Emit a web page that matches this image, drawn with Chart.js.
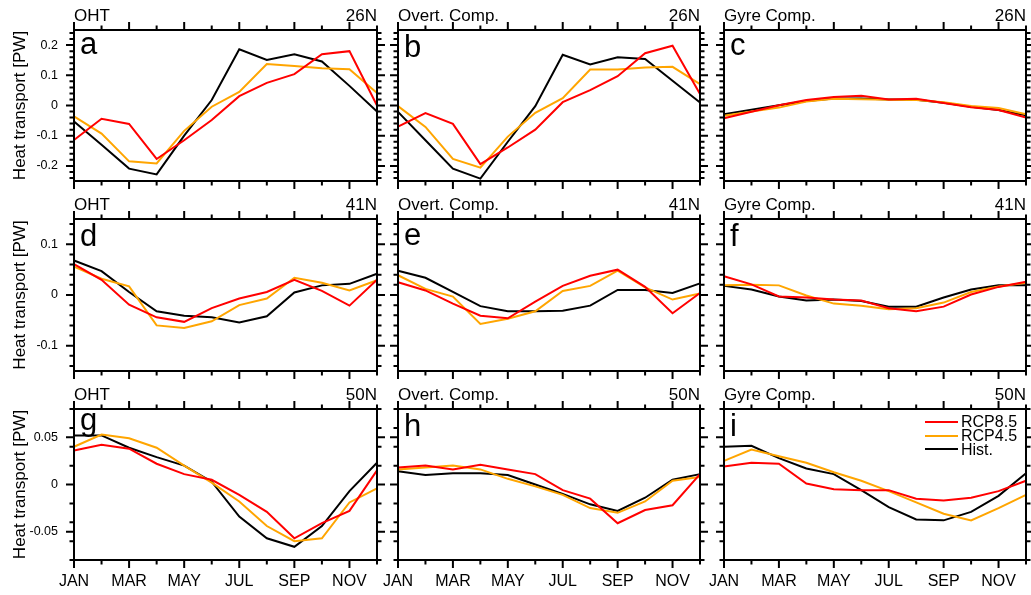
<!DOCTYPE html>
<html>
<head>
<meta charset="utf-8">
<script src="https://cdn.jsdelivr.net/npm/chart.js@4"></script>
<style>
body { margin: 0; background: #fff; }
#wrap { position: relative; width: 1031px; height: 595px; overflow: hidden; font-family: 'Liberation Sans', Arial, sans-serif; color: #000; }
#wrap canvas, .txt, .key { position: absolute; }
.txt { white-space: nowrap; line-height: 1; }
</style>
</head>
<body>
<div id="wrap"></div>
<script>
var months = ['JAN','FEB','MAR','APR','MAY','JUN','JUL','AUG','SEP','OCT','NOV','DEC'];

// 26N
var oht26_hist  = [-0.053, -0.130, -0.209, -0.228, -0.100, 0.018, 0.186, 0.151, 0.170, 0.146, 0.065, -0.020];
var oht26_rcp45 = [-0.036, -0.093, -0.185, -0.192, -0.084, -0.004, 0.045, 0.137, 0.131, 0.123, 0.120, 0.041];
var oht26_rcp85 = [-0.114, -0.044, -0.061, -0.177, -0.115, -0.048, 0.031, 0.075, 0.104, 0.170, 0.180, 0.000];
var ovt26_hist  = [-0.021, -0.115, -0.209, -0.242, -0.120, -0.002, 0.168, 0.136, 0.160, 0.154, 0.082, 0.010];
var ovt26_rcp45 = [-0.002, -0.071, -0.177, -0.206, -0.103, -0.024, 0.024, 0.119, 0.119, 0.126, 0.128, 0.071];
var ovt26_rcp85 = [-0.070, -0.025, -0.061, -0.194, -0.139, -0.080, 0.011, 0.051, 0.097, 0.173, 0.198, 0.038];
var gyre26_hist  = [-0.029, -0.014, 0.001, 0.015, 0.023, 0.023, 0.020, 0.019, 0.009, -0.004, -0.015, -0.032];
var gyre26_rcp45 = [-0.034, -0.020, -0.007, 0.013, 0.022, 0.021, 0.019, 0.018, 0.011, -0.002, -0.008, -0.029];
var gyre26_rcp85 = [-0.042, -0.021, 0.001, 0.018, 0.028, 0.032, 0.020, 0.022, 0.008, -0.006, -0.015, -0.040];

// 41N
var oht41_hist  = [0.068, 0.047, 0.006, -0.032, -0.041, -0.044, -0.054, -0.042, 0.005, 0.019, 0.022, 0.042];
var oht41_rcp45 = [0.056, 0.032, 0.017, -0.060, -0.065, -0.052, -0.020, -0.007, 0.034, 0.024, 0.009, 0.029];
var oht41_rcp85 = [0.061, 0.030, -0.019, -0.044, -0.053, -0.026, -0.007, 0.006, 0.030, 0.008, -0.021, 0.030];
var ovt41_hist  = [0.048, 0.034, 0.006, -0.022, -0.032, -0.032, -0.031, -0.021, 0.010, 0.010, 0.004, 0.023];
var ovt41_rcp45 = [0.039, 0.012, -0.003, -0.057, -0.047, -0.032, 0.008, 0.018, 0.048, 0.015, -0.009, 0.003];
var ovt41_rcp85 = [0.025, 0.009, -0.017, -0.041, -0.046, -0.013, 0.018, 0.038, 0.050, 0.016, -0.036, 0.004];
var gyre41_hist  = [0.018, 0.011, -0.003, -0.011, -0.009, -0.012, -0.023, -0.023, -0.005, 0.011, 0.019, 0.019];
var gyre41_rcp45 = [0.019, 0.020, 0.019, -0.001, -0.017, -0.021, -0.028, -0.026, -0.015, 0.006, 0.017, 0.024];
var gyre41_rcp85 = [0.037, 0.021, -0.003, -0.005, -0.009, -0.011, -0.026, -0.032, -0.023, 0.001, 0.016, 0.026];

// 50N
var oht50_hist  = [0.052, 0.052, 0.039, 0.029, 0.020, 0.003, -0.034, -0.057, -0.066, -0.044, -0.007, 0.023];
var oht50_rcp45 = [0.040, 0.053, 0.049, 0.039, 0.020, 0.002, -0.018, -0.044, -0.060, -0.057, -0.019, -0.004];
var oht50_rcp85 = [0.036, 0.042, 0.038, 0.022, 0.011, 0.005, -0.011, -0.029, -0.057, -0.041, -0.028, 0.015];
var ovt50_hist  = [0.014, 0.010, 0.012, 0.012, 0.010, 0.000, -0.010, -0.021, -0.028, -0.014, 0.005, 0.011];
var ovt50_rcp45 = [0.016, 0.018, 0.020, 0.016, 0.006, -0.002, -0.011, -0.025, -0.030, -0.018, 0.004, 0.008];
var ovt50_rcp85 = [0.018, 0.020, 0.016, 0.021, 0.016, 0.011, -0.006, -0.015, -0.041, -0.027, -0.022, 0.011];
var gyre50_hist  = [0.040, 0.041, 0.028, 0.017, 0.011, -0.006, -0.024, -0.037, -0.038, -0.029, -0.012, 0.012];
var gyre50_rcp45 = [0.025, 0.037, 0.030, 0.023, 0.013, 0.004, -0.007, -0.019, -0.031, -0.038, -0.025, -0.011];
var gyre50_rcp85 = [0.019, 0.023, 0.022, 0.001, -0.005, -0.006, -0.006, -0.015, -0.017, -0.014, -0.007, 0.004];

var seriesLabels = ['RCP8.5', 'RCP4.5', 'Hist.'];
var seriesColors = ['#ff0000', '#ffa500', '#000000'];
var panelTitles = ['OHT', 'Overt. Comp.', 'Gyre Comp.'];
var latitudes = ['26N', '41N', '50N'];
var letters = [['a','b','c'], ['d','e','f'], ['g','h','i']];
var yLimits = [0.25, 0.15, 0.08];
var ySteps = [0.1, 0.1, 0.05];

// rows of [rcp85, rcp45, hist] per panel (first dataset is drawn on top)
var panels = [
  [[oht26_rcp85, oht26_rcp45, oht26_hist], [ovt26_rcp85, ovt26_rcp45, ovt26_hist], [gyre26_rcp85, gyre26_rcp45, gyre26_hist]],
  [[oht41_rcp85, oht41_rcp45, oht41_hist], [ovt41_rcp85, ovt41_rcp45, ovt41_hist], [gyre41_rcp85, gyre41_rcp45, gyre41_hist]],
  [[oht50_rcp85, oht50_rcp45, oht50_hist], [ovt50_rcp85, ovt50_rcp45, ovt50_hist], [gyre50_rcp85, gyre50_rcp45, gyre50_hist]]
];

// frame boxes in page pixels
var frameLeft = [74, 398, 724], frameRight = [377, 700, 1026];
var frameTop = [30, 219, 409], frameBottom = [181, 371, 560];
var letterOffset = {a: 24, c: 25, e: 26, g: 21};

Chart.defaults.font.family = "'Liberation Sans', Arial, sans-serif";
Chart.defaults.color = '#000';

var wrap = document.getElementById('wrap');

function addText(str, x, baseline, size, align) {
  var d = document.createElement('div');
  d.className = 'txt';
  d.textContent = str;
  d.style.fontSize = size + 'px';
  d.style.top = (baseline - 0.8465 * size) + 'px';
  if (align === 'right') d.style.right = (1031 - x) + 'px';
  else d.style.left = x + 'px';
  wrap.appendChild(d);
}

// box frame plus outward tick marks on all four sides
var frameTicks = {
  id: 'frameTicks',
  afterDatasetsDraw: function(chart, args, opts) {
    var ctx = chart.ctx, a = chart.chartArea;
    var xs = chart.scales.x, ys = chart.scales.y;
    ctx.save();
    ctx.strokeStyle = '#000';
    ctx.lineWidth = 2;
    ctx.beginPath();
    months.forEach(function(m, i) {
      var px = xs.getPixelForValue(i), len = i % 2 === 0 ? 8 : 4.5;
      ctx.moveTo(px, a.bottom); ctx.lineTo(px, a.bottom + len);
      ctx.moveTo(px, a.top); ctx.lineTo(px, a.top - len);
    });
    function yTick(v, len) {
      var py = ys.getPixelForValue(v);
      ctx.moveTo(a.left, py); ctx.lineTo(a.left - len, py);
      ctx.moveTo(a.right, py); ctx.lineTo(a.right + len, py);
    }
    var n = Math.floor(ys.max / 0.02 + 1e-9);
    for (var k = -n; k <= n; k++) yTick(k * 0.02, 4.5);
    var m = Math.floor(ys.max / opts.step + 1e-9);
    for (var j = -m; j <= m; j++) yTick(j * opts.step, 8);
    ctx.stroke();
    ctx.strokeRect(a.left, a.top, a.right - a.left, a.bottom - a.top);
    ctx.restore();
  }
};

function makePanel(r, c) {
  var leftW = c === 0 ? 70 : 22;
  var rightPad = 14, topPad = 12;
  var bottomH = r === 2 ? 34 : 12;
  var cv = document.createElement('canvas');
  var w = frameRight[c] - frameLeft[c] + leftW + rightPad;
  var h = frameBottom[r] - frameTop[r] + topPad + bottomH;
  cv.width = w; cv.height = h;
  cv.style.left = (frameLeft[c] - leftW) + 'px';
  cv.style.top = (frameTop[r] - topPad) + 'px';
  wrap.appendChild(cv);

  var lim = yLimits[r], step = ySteps[r];
  var majors = [];
  for (var j = -Math.floor(lim / step + 1e-9); j <= Math.floor(lim / step + 1e-9); j++) majors.push(+(j * step).toFixed(3));

  new Chart(cv, {
    type: 'line',
    data: {
      labels: months,
      datasets: panels[r][c].map(function(d, k) {
        return {
          label: seriesLabels[k],
          data: d,
          borderColor: seriesColors[k],
          borderWidth: 2,
          pointRadius: 0,
          tension: 0,
          fill: false
        };
      })
    },
    options: {
      responsive: false,
      animation: false,
      layout: { padding: { left: 0, right: rightPad, top: topPad, bottom: 0 } },
      plugins: {
        legend: { display: false },
        tooltip: { enabled: false },
        frameTicks: { step: step }
      },
      scales: {
        x: {
          grid: { display: false, drawTicks: false },
          border: { display: false },
          afterFit: function(s) { s.height = bottomH; s.paddingLeft = 0; s.paddingRight = 0; },
          ticks: {
            display: r === 2,
            autoSkip: false,
            maxRotation: 0,
            padding: 12,
            font: { size: 16 },
            callback: function(v, i) { return i % 2 === 0 ? months[i] : ''; }
          }
        },
        y: {
          min: -lim,
          max: lim,
          grid: { display: false, drawTicks: false },
          border: { display: false },
          afterBuildTicks: function(s) { s.ticks = majors.map(function(v) { return { value: v }; }); },
          afterFit: function(s) { s.width = leftW; s.paddingTop = 0; s.paddingBottom = 0; },
          ticks: {
            display: c === 0,
            padding: 16,
            font: { size: 12.5 },
            callback: function(v) { return String(+v.toFixed(3)); }
          },
          title: {
            display: c === 0,
            text: 'Heat transport [PW]',
            font: { size: 17 },
            padding: { top: 6, bottom: 0 }
          }
        }
      }
    },
    plugins: [frameTicks]
  });

  addText(panelTitles[c], frameLeft[c], frameTop[r] - 8.5, 17);
  addText(latitudes[r], frameRight[c], frameTop[r] - 8.5, 17, 'right');
  var L = letters[r][c];
  addText(L, frameLeft[c] + 6, frameTop[r] + (letterOffset[L] || 27), 31);
}

for (var r = 0; r < 3; r++) {
  for (var c = 0; c < 3; c++) makePanel(r, c);
}

// legend inside panel i
seriesLabels.forEach(function(lab, k) {
  var y = 421.7 + k * 13.8;
  var ln = document.createElement('div');
  ln.className = 'key';
  ln.style.left = '925px';
  ln.style.top = (y - 1) + 'px';
  ln.style.width = '33px';
  ln.style.borderTop = '2px solid ' + seriesColors[k];
  wrap.appendChild(ln);
  addText(lab, 961, y + 5.8, 16);
});
</script>
</body>
</html>
